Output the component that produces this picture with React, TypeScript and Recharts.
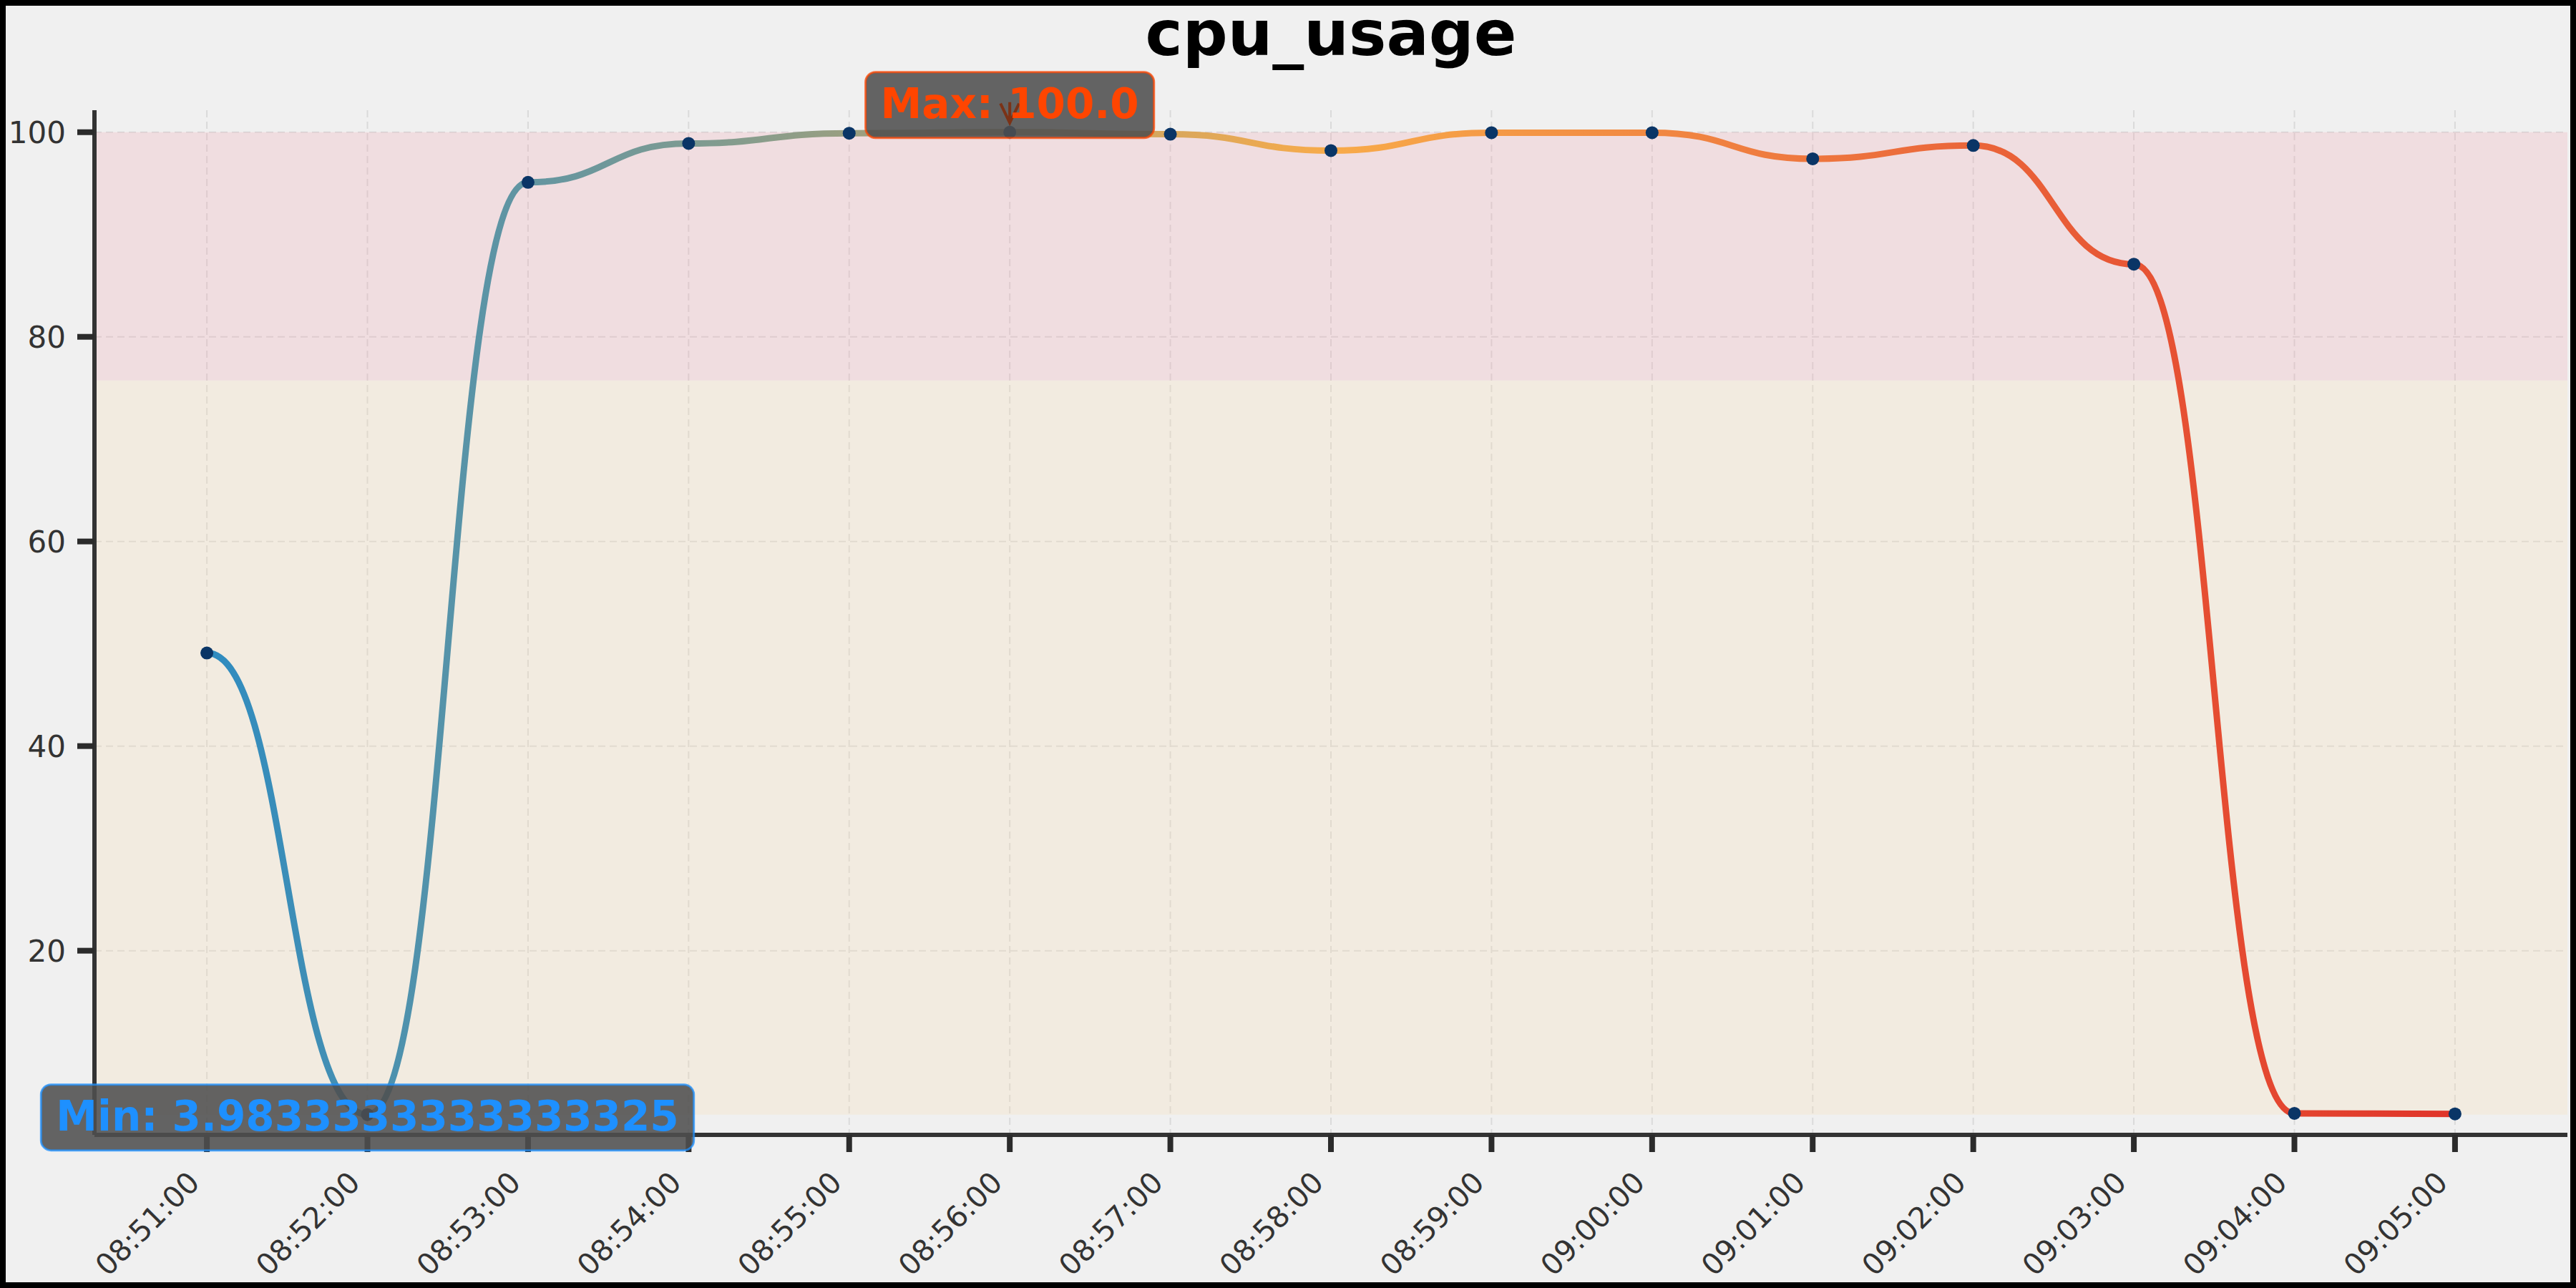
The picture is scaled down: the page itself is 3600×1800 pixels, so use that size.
import {
  LineChart,
  Line,
  XAxis,
  YAxis,
  CartesianGrid,
  ReferenceArea,
  LabelList,
} from 'recharts';

// sample times (one per minute) and cpu usage in percent
const times = [
  '08:51:00', '08:52:00', '08:53:00', '08:54:00', '08:55:00',
  '08:56:00', '08:57:00', '08:58:00', '08:59:00', '09:00:00',
  '09:01:00', '09:02:00', '09:03:00', '09:04:00', '09:05:00',
];
const cpuValues = [
  49.1, 3.9833333333333325, 95.1, 98.9, 99.9,
  100.0, 99.8, 98.2, 99.95, 99.95,
  97.4, 98.7, 87.1, 4.1, 4.05,
];
const yTicks = [20, 40, 60, 80, 100];
const bandSplit = 75.75;

const data = times.map((t, i) => ({ t: i, v: cpuValues[i] }));
const xTicks = times.map((_, i) => i);
const maxIdx = cpuValues.indexOf(Math.max(...cpuValues));
const minIdx = cpuValues.indexOf(Math.min(...cpuValues));
const maxVal = cpuValues[maxIdx];
const minVal = cpuValues[minIdx];

const W = 3600;
const H = 1800;
const FONT = '"DejaVu Sans", Verdana, sans-serif';

function fmt(v: number) {
  return Number.isInteger(v) ? v.toFixed(1) : String(v);
}

let measureCtx: CanvasRenderingContext2D | null = null;
function textWidth(s: string, font: string) {
  if (!measureCtx) measureCtx = document.createElement('canvas').getContext('2d');
  if (!measureCtx) return s.length * 35;
  measureCtx.font = font;
  return measureCtx.measureText(s).width;
}

function XTick(props: any) {
  const { x, y, payload } = props;
  const px = x - 8;
  const py = y + 45;
  return (
    <text
      x={px}
      y={py}
      transform={`rotate(-45, ${px}, ${py})`}
      textAnchor="end"
      fontSize={41}
      fontFamily={FONT}
      fill="#333"
    >
      {times[payload.value]}
    </text>
  );
}

function Annotation(props: any) {
  const { index } = props;
  const cx = props.x ?? props.viewBox?.x;
  const cy = props.y ?? props.viewBox?.y;
  if (index !== maxIdx && index !== minIdx) return null;
  const isMax = index === maxIdx;
  const label = isMax ? `Max: ${fmt(maxVal)}` : `Min: ${fmt(minVal)}`;
  const color = isMax ? '#ff4500' : '#1e90ff';
  const w = textWidth(label, `bold 58px ${FONT}`);
  const baseline = isMax ? cy - 20 : cy + 22;
  const boxW = w + 42;
  return (
    <g>
      <rect
        x={cx - boxW / 2}
        y={baseline - 64}
        width={boxW}
        height={92}
        rx={14}
        fill="#4f4f4f"
        fillOpacity={0.88}
        stroke={color}
        strokeOpacity={0.75}
        strokeWidth={3}
      />
      {isMax && (
        <path
          d={`M${cx},${cy - 42} L${cx},${cy - 13} M${cx - 13},${cy - 40} L${cx},${cy - 13} L${cx + 13},${cy - 40}`}
          stroke="#7b3216"
          strokeWidth={4}
          fill="none"
        />
      )}
      <text
        x={cx}
        y={baseline}
        textAnchor="middle"
        fontSize={58}
        fontWeight="bold"
        fontFamily={FONT}
        fill={color}
      >
        {label}
      </text>
    </g>
  );
}

export default function App() {
  return (
    <div style={{ position: 'absolute', left: 0, top: 0, width: W, height: H, background: '#f0f0f0' }}>
      <LineChart
        width={W}
        height={H}
        data={data}
        margin={{ top: 154, right: 12, bottom: 14, left: 0 }}
      >
        <defs>
          <linearGradient id="cpuGrad" x1="0" y1="0" x2="1" y2="0">
            <stop offset="0" stopColor="#2e8bc0" />
            <stop offset="0.25" stopColor="#8a9d8a" />
            <stop offset="0.5" stopColor="#f8ab4a" />
            <stop offset="0.75" stopColor="#ec6e3c" />
            <stop offset="1" stopColor="#e0342a" />
          </linearGradient>
        </defs>
        <ReferenceArea
          y1={minVal}
          y2={bandSplit}
          fill="rgb(248,220,176)"
          fillOpacity={0.25}
          stroke="none"
        />
        <ReferenceArea
          y1={bandSplit}
          y2={maxVal}
          fill="rgb(240,164,176)"
          fillOpacity={0.25}
          stroke="none"
        />
        <CartesianGrid
          stroke="#dadada"
          strokeWidth={2}
          strokeDasharray="10 6"
          horizontalValues={yTicks}
          verticalValues={xTicks}
        />
        <XAxis
          dataKey="t"
          type="number"
          domain={[-0.7, 14.7]}
          ticks={xTicks}
          interval={0}
          height={200}
          tickSize={24}
          tickMargin={0}
          axisLine={{ stroke: '#333', strokeWidth: 6 }}
          tickLine={{ stroke: '#2b2b2b', strokeWidth: 8 }}
          tick={<XTick />}
        />
        <YAxis
          type="number"
          domain={[2.0, 102.15]}
          ticks={yTicks}
          width={132}
          tickSize={24}
          tickMargin={16}
          axisLine={{ stroke: '#333', strokeWidth: 6 }}
          tickLine={{ stroke: '#2b2b2b', strokeWidth: 8 }}
          tick={{ fill: '#333', fontSize: 42, fontFamily: FONT }}
        />
        <Line
          type="bumpX"
          dataKey="v"
          stroke="url(#cpuGrad)"
          strokeWidth={9}
          dot={{ r: 9, fill: '#0a3566', stroke: '#0a3566', strokeWidth: 0 }}
          activeDot={false}
          isAnimationActive={false}
        >
          <LabelList dataKey="v" content={<Annotation />} />
        </Line>
      </LineChart>
      <svg
        width={W}
        height={H}
        style={{ position: 'absolute', left: 0, top: 0, pointerEvents: 'none' }}
      >
        <text
          x={1860}
          y={77}
          textAnchor="middle"
          fontSize={88}
          fontWeight="bold"
          fontFamily={FONT}
          fill="#000"
        >
          cpu_usage
        </text>
        <rect x={4} y={4} width={W - 8} height={H - 8} fill="none" stroke="#000" strokeWidth={8} />
      </svg>
    </div>
  );
}
